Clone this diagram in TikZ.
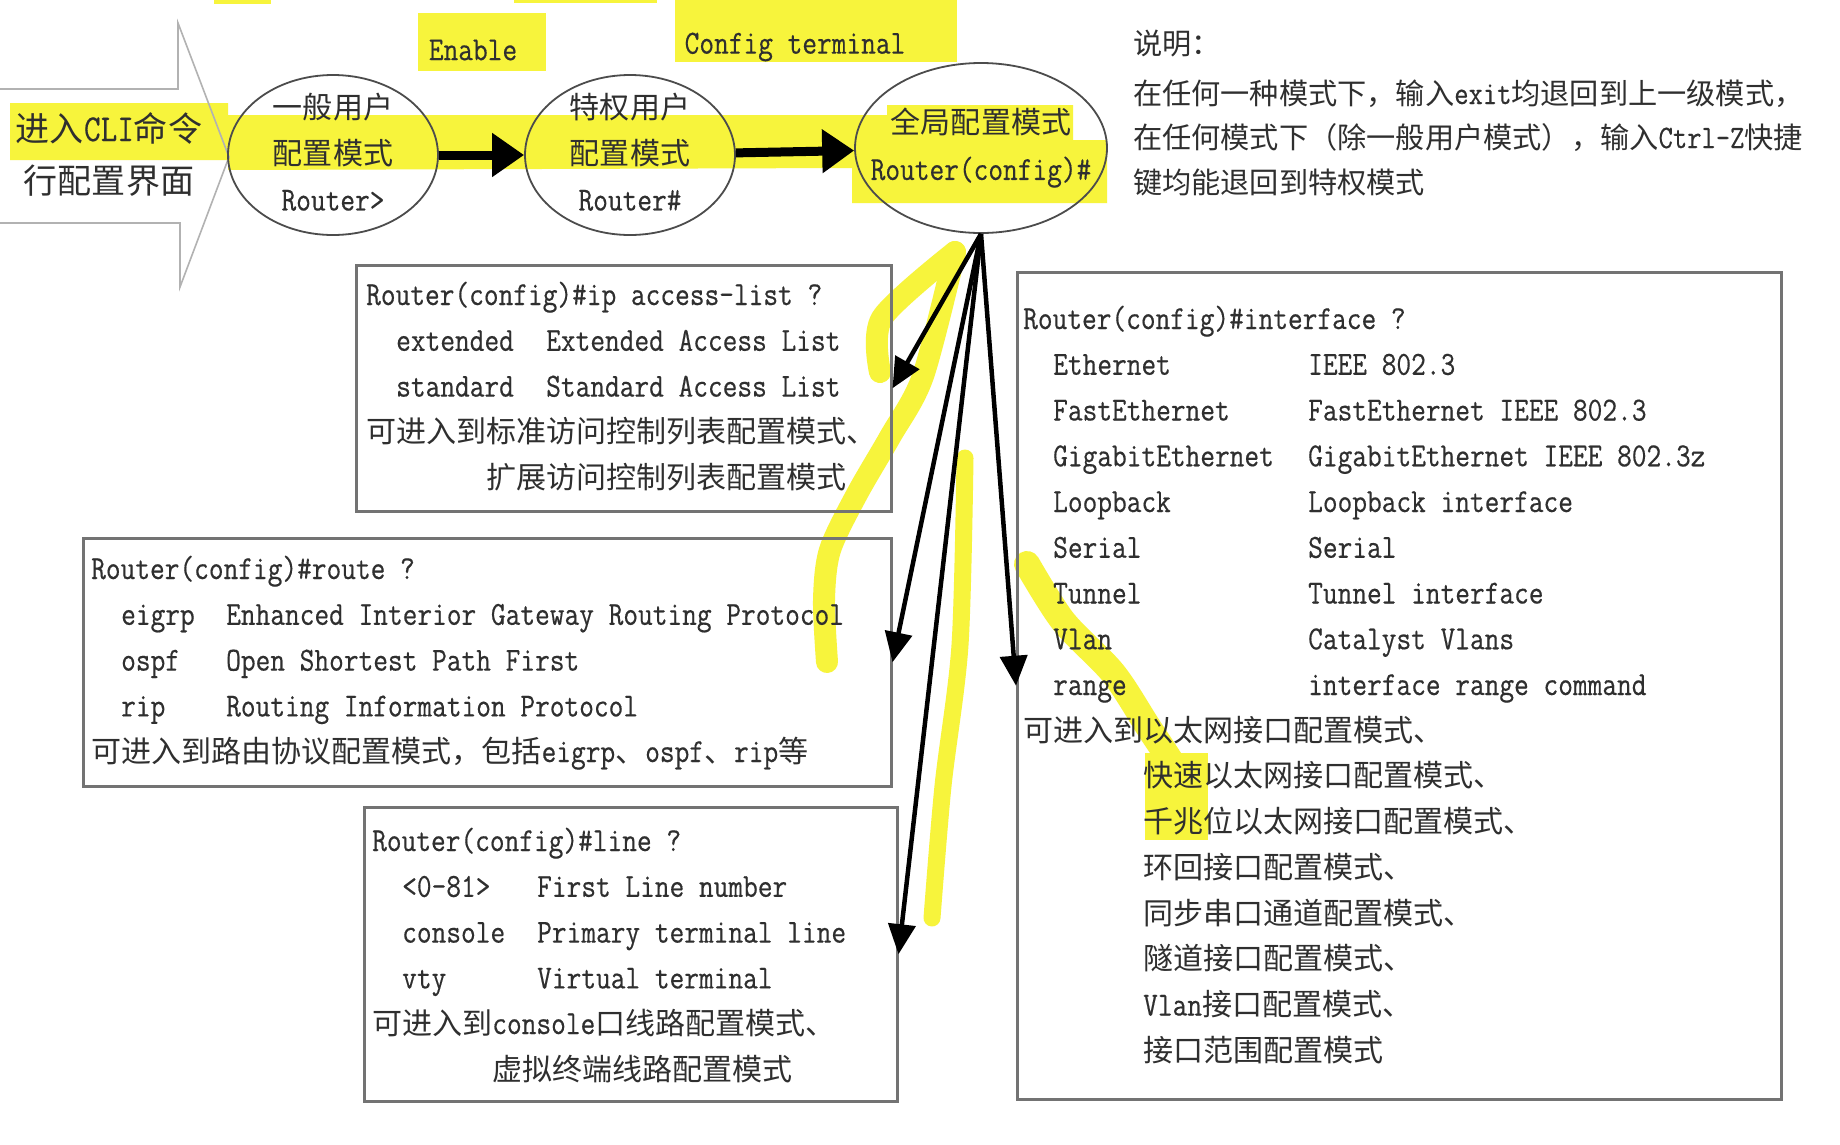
\documentclass[tikz,border=0pt]{standalone}
\usepackage{fontspec}
\newfontfamily\cjk[Scale=1.05]{Noto Sans CJK SC}
\newfontfamily\cmdfont[Scale=1.175,FakeStretch=0.85,FakeBold=0.4]{Latin Modern Mono}
\usetikzlibrary{shapes.geometric,arrows.meta}
\definecolor{ink}{HTML}{2F2F2F}
\definecolor{hl}{HTML}{F7F43C}

\begin{document}
\begin{tikzpicture}[x=1pt,y=-1pt,
  every node/.style={inner sep=0pt,text=ink},
  modering/.style={ellipse,draw=black!70,line width=1.8pt,minimum width=210pt,minimum height=160pt},
  modetext/.style={align=center,font=\fontsize{28.6}{46}\selectfont\cmdfont},
  cmdbox/.style={draw=black!55,line width=2.5pt,anchor=north west},
  cmd/.style={anchor=base west,font=\fontsize{28.6}{46}\selectfont\cmdfont},
  note/.style={cmd,font=\fontsize{27.8}{46}\selectfont\cmdfont},
  steparrow/.style={-{Triangle[length=32pt,width=42pt]},line width=9pt},
  subarrow/.style={-{Triangle[length=30pt,width=27pt]},line width=4.5pt},
  hlstroke/.style={draw=hl,line width=22pt,line cap=round,line join=round}]

  \useasboundingbox (0,0) rectangle (1840,1144);
  \fill[white] (0,0) rectangle (1840,1144);

  % marker highlights
  \fill[hl] (10,103) -- (228,103) -- (228,115) -- (887,115) -- (887,105) -- (1073,105)
    -- (1073,140) -- (1107,140) -- (1107,203) -- (852,203) -- (852,168) -- (228,170)
    -- (228,160) -- (10,160) -- cycle;
  \fill[hl] (418,13) rectangle (546,71);
  \fill[hl] (675,0) rectangle (957,62);
  \fill[hl] (214,0) rectangle (271,4);
  \fill[hl] (514,0) rectangle (657,3);
  \fill[hl] (1145,753) rectangle (1208,840);
  \draw[hlstroke] plot[smooth] coordinates {(880,372) (882,318) (955,252)};
  \draw[hlstroke] plot[smooth] coordinates {(955,252) (923,376) (890,437) (857,494) (830,550) (824,600) (827,662)};
  \draw[hlstroke,line width=17pt] plot[smooth] coordinates {(965,458) (960,645) (943,786) (932,918)};
  \draw[hlstroke,line width=26pt] plot[smooth] coordinates {(1027,564) (1063,621) (1113,673) (1147,725) (1180,777) (1197,824)};

  % entry arrow
  \draw[black!30,line width=1.6pt] (0,89) -- (178,89) -- (178,23) -- (229,157)
    -- (180,287) -- (180,223) -- (0,223);
  \node[modetext,font=\fontsize{32.4}{52}\selectfont\cmdfont] (cli) at (109,154)
    {{\cjk 进入}CLI{\cjk 命令}\\{\cjk 行配置界面}};

  % modes
  \node[modering] (user) at (333,155) {};
  \node[modering] (priv) at (630,155) {};
  \node[modering,minimum width=252pt,minimum height=170pt] (glob) at (981,148) {};
  \node[modetext] (user-t) at (333,152) {{\cjk 一般用户}\\{\cjk 配置模式}\\Router>};
  \node[modetext] (priv-t) at (630,152) {{\cjk 特权用户}\\{\cjk 配置模式}\\Router\#};
  \node[modetext] (glob-t) at (981,148) {{\cjk 全局配置模式}\\Router(config)\#};
  \node[cmd,anchor=center] (enable) at (473,50) {Enable};
  \node[cmd,anchor=center] (conft) at (795,47) {Config terminal};
  \draw[steparrow] (user) -- (priv);
  \draw[steparrow] (priv) -- (glob);

  % note
  \foreach \y/\t [count=\i] in {54/{\cjk 说明：},
      104/{{\cjk 在任何一种模式下，输入}exit{\cjk 均退回到上一级模式，}},
      148/{{\cjk 在任何模式下（除一般用户模式），输入}Ctrl-Z{\cjk 快捷}},
      193/{\cjk 键均能退回到特权模式}} {
    \node[note] (note-\i) at (1133,\y) {\t};
  }

  % ip access-list
  \node[cmdbox,minimum width=535pt,minimum height=246pt] (acl) at (355,264) {};
  \node[cmd] (acl-0) at (366,305) {Router(config)\#ip access-list ?};
  \foreach \k/\d [count=\i] in {extended/Extended Access List,standard/Standard Access List} {
    \node[cmd] (acl-k\i) at (396,{305+\i*45.8}) {\k};
    \node[cmd] (acl-d\i) at (546,{305+\i*45.8}) {\d};
  }
  \node[cmd] (acl-z1) at (366,442) {\cjk 可进入到标准访问控制列表配置模式、};
  \node[cmd] (acl-z2) at (486,488) {\cjk 扩展访问控制列表配置模式};

  % route
  \node[cmdbox,minimum width=808pt,minimum height=248pt] (route) at (82,537) {};
  \node[cmd] (route-0) at (91,579) {Router(config)\#route ?};
  \foreach \k/\d [count=\i] in {eigrp/Enhanced Interior Gateway Routing Protocol,
      ospf/Open Shortest Path First,rip/Routing Information Protocol} {
    \node[cmd] (route-k\i) at (121,{579+\i*45.8}) {\k};
    \node[cmd] (route-d\i) at (226,{579+\i*45.8}) {\d};
  }
  \node[cmd] (route-z1) at (91,762)
    {{\cjk 可进入到路由协议配置模式，包括}eigrp{\cjk 、}ospf{\cjk 、}rip{\cjk 等}};

  % line
  \node[cmdbox,minimum width=533pt,minimum height=294pt] (line) at (363,806) {};
  \node[cmd] (line-0) at (372,851) {Router(config)\#line ?};
  \foreach \k/\d [count=\i] in {<0-81>/First Line number,console/Primary terminal line,
      vty/Virtual terminal} {
    \node[cmd] (line-k\i) at (402,{851+\i*45.8}) {\k};
    \node[cmd] (line-d\i) at (537,{851+\i*45.8}) {\d};
  }
  \node[cmd] (line-z1) at (372,1034) {{\cjk 可进入到}console{\cjk 口线路配置模式、}};
  \node[cmd] (line-z2) at (492,1080) {\cjk 虚拟终端线路配置模式};

  % interface
  \node[cmdbox,minimum width=764pt,minimum height=827pt] (ifc) at (1016,271) {};
  \node[cmd] (ifc-0) at (1023,329) {Router(config)\#interface ?};
  \foreach \k/\d [count=\i] in {Ethernet/IEEE 802.3,FastEthernet/FastEthernet IEEE 802.3,
      GigabitEthernet/GigabitEthernet IEEE 802.3z,Loopback/Loopback interface,
      Serial/Serial,Tunnel/Tunnel interface,Vlan/Catalyst Vlans,
      range/interface range command} {
    \node[cmd] (ifc-k\i) at (1053,{329+\i*45.75}) {\k};
    \node[cmd] (ifc-d\i) at (1308,{329+\i*45.75}) {\d};
  }
  \node[cmd] (ifc-z0) at (1023,741) {\cjk 可进入到以太网接口配置模式、};
  \foreach \t [count=\j] in {{\cjk 快速以太网接口配置模式、},{\cjk 千兆位以太网接口配置模式、},
      {\cjk 环回接口配置模式、},{\cjk 同步串口通道配置模式、},{\cjk 隧道接口配置模式、},
      {Vlan{\cjk 接口配置模式、}},{\cjk 接口范围配置模式}} {
    \node[cmd] (ifc-z\j) at (1143,{741+\j*45.75}) {\t};
  }

  % sub-mode arrows
  \draw[subarrow] (glob.south) -- (acl.east);
  \draw[subarrow] (glob.south) -- (route.east);
  \draw[subarrow] (glob.south) -- (line.east);
  \draw[subarrow] (glob.south) -- (ifc.west);
\end{tikzpicture}
\end{document}
